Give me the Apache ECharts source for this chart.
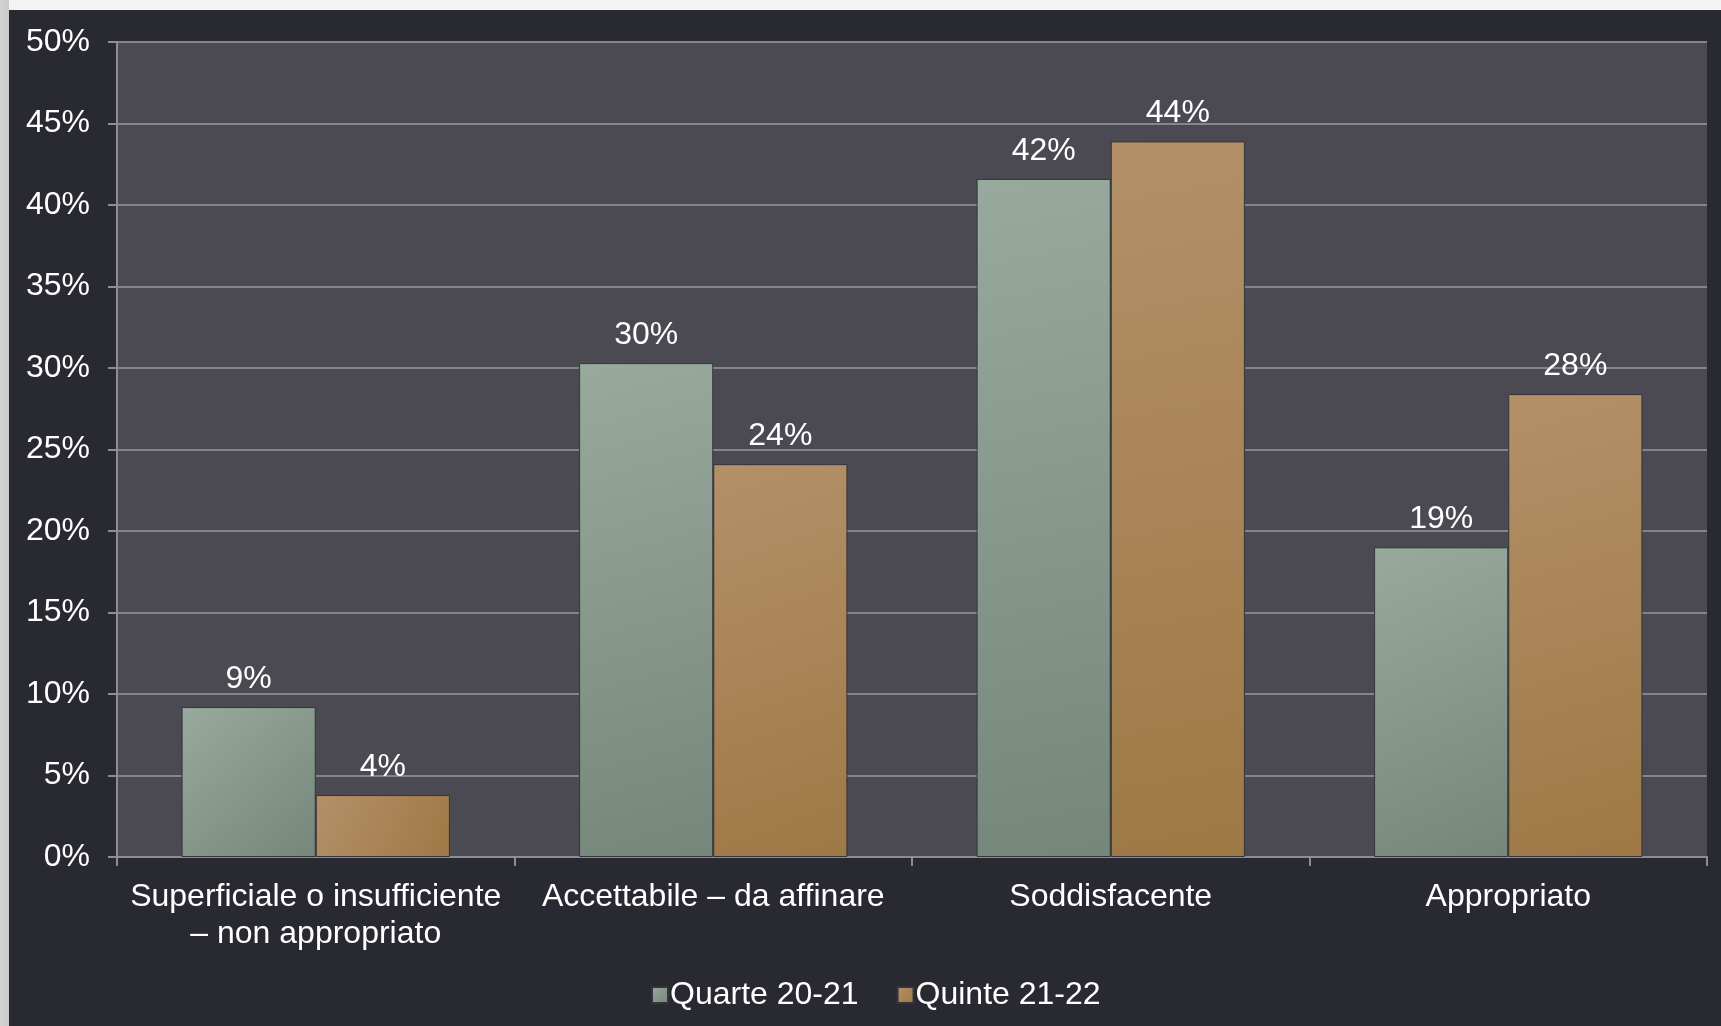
<!DOCTYPE html>
<html>
<head>
<meta charset="utf-8">
<script src="https://cdn.jsdelivr.net/npm/echarts@6/dist/echarts.min.js"></script>
<style>
    html, body { margin: 0; padding: 0; width: 1721px; height: 1026px; overflow: hidden; }
    body { background: linear-gradient(to right, #d2d2d2 0px, #c9c9c9 9px, #f3f3f3 9px); }
    #chart { position: absolute; left: 9px; top: 10px; width: 1712px; height: 1016px; background: #292932; }
</style>
</head>
<body>
<div id="chart"></div>
<script>
// ----- data -----
const categories = [
    'Superficiale o insufficiente\n– non appropriato',
    'Accettabile – da affinare',
    'Soddisfacente',
    'Appropriato'
];
const seriesNames = ['Quarte 20-21', 'Quinte 21-22'];
const quarteValues = [9.2, 30.3, 41.6, 19.0];
const quinteValues = [3.8, 24.1, 43.9, 28.4];
const yTicks = { min: 0, max: 50, interval: 5 };

// colori barre (gradiente leggero, stile "bevel")
function barColor(top, bottom) {
    return new echarts.graphic.LinearGradient(0, 0, 1, 1, [
        { offset: 0, color: top },
        { offset: 1, color: bottom }
    ]);
}
const greenFill = barColor('#97aa9d', '#75877b');
const brownFill = barColor('#b39068', '#9e7946');

const labelStyle = {
    show: true,
    position: 'top',
    distance: 12,
    color: '#ffffff',
    fontSize: 32,
    fontFamily: 'Liberation Sans, Arial, sans-serif',
    formatter: p => Math.round(p.value) + '%'
};

const chart = echarts.init(document.getElementById('chart'));
chart.setOption({
    animation: false,
    textStyle: { fontFamily: 'Liberation Sans, Arial, sans-serif' },
    grid: {
        left: 108, right: 14, top: 32, bottom: 169,
        show: true, backgroundColor: '#4b4a52', borderWidth: 0
    },
    legend: {
        data: seriesNames,
        left: 637,
        top: 964,
        icon: 'rect',
        itemWidth: 16,
        itemHeight: 16,
        itemGap: 38,
        textStyle: { color: '#ffffff', fontSize: 32, padding: [0, 0, 0, -3] }
    },
    xAxis: {
        type: 'category',
        data: categories,
        axisLine: { lineStyle: { color: '#8e8e92', width: 2 } },
        axisTick: { show: true, length: 9, lineStyle: { color: '#8e8e92', width: 2 } },
        axisLabel: {
            interval: 0,
            color: '#ffffff',
            fontSize: 32,
            lineHeight: 37,
            margin: 22
        }
    },
    yAxis: {
        type: 'value',
        min: yTicks.min,
        max: yTicks.max,
        interval: yTicks.interval,
        axisLine: { show: true, lineStyle: { color: '#8e8e92', width: 2 } },
        axisTick: { show: true, length: 9, lineStyle: { color: '#8e8e92', width: 2 } },
        axisLabel: { color: '#ffffff', fontSize: 32, margin: 27, formatter: '{value}%' },
        splitLine: { lineStyle: { color: '#85848b', width: 2 } }
    },
    series: [
        {
            name: seriesNames[0],
            type: 'bar',
            data: quarteValues,
            barGap: '0%',
            barCategoryGap: '32.5%',
            itemStyle: { color: greenFill, borderColor: '#34343a', borderWidth: 1 },
            label: labelStyle
        },
        {
            name: seriesNames[1],
            type: 'bar',
            data: quinteValues,
            barGap: '0%',
            barCategoryGap: '32.5%',
            itemStyle: { color: brownFill, borderColor: '#34343a', borderWidth: 1 },
            label: labelStyle
        }
    ]
});
</script>
</body>
</html>
